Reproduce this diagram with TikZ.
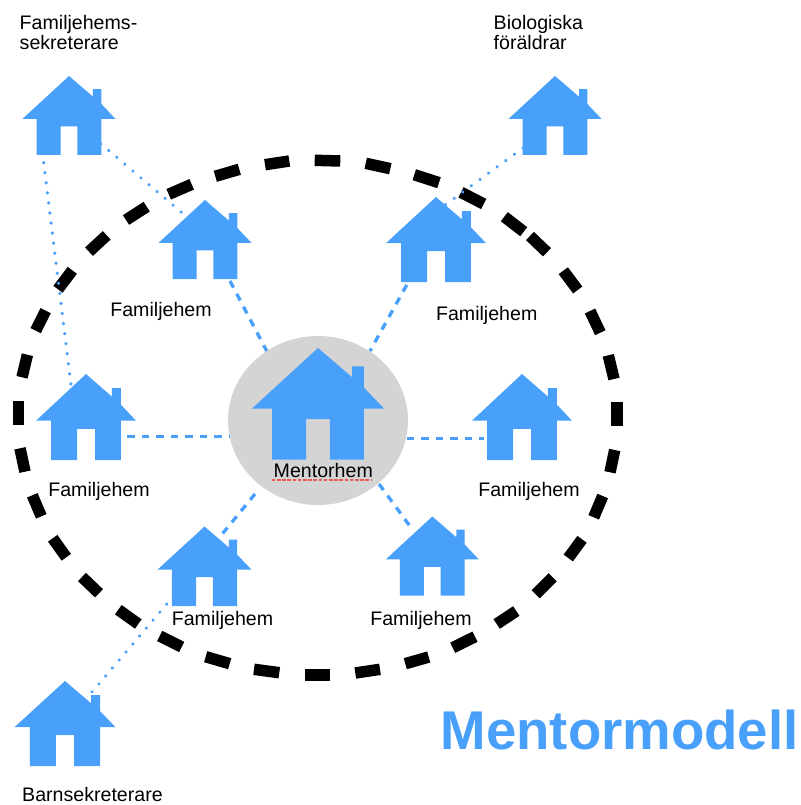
\documentclass[tikz,border=0pt]{standalone}
\usepackage{fontspec}
\setmainfont{Liberation Sans}
\usetikzlibrary{calc}
\definecolor{hblue}{HTML}{48A0FB}
\definecolor{cgray}{HTML}{D4D4D4}
\definecolor{redline}{HTML}{EE5A50}
\tikzset{
  housebox/.style={inner sep=0pt,outer sep=0pt,draw=none,fill=none},
  txt/.style={inner sep=0pt,anchor=base,font=\fontsize{19.6}{20}\selectfont,text=black},
  dashlink/.style={draw=hblue,line width=3.3pt,dash pattern=on 7.5pt off 7pt},
  dotlink/.style={draw=hblue,line width=3.6pt,line cap=round,dash pattern=on 0.01pt off #1pt},
  ringdash/.style={draw=black,line width=11.5pt},
}
\newcommand{\mhouse}[5]{%
  \pgfmathsetmacro{\hsx}{#2}\pgfmathsetmacro{\hst}{#3}\pgfmathsetmacro{\hsw}{#4}\pgfmathsetmacro{\hsh}{#5}%
  \node[housebox,minimum width=#4pt,minimum height=#5pt] (#1) at (#2,#3+#5/2) {};
  \fill[hblue] (\hsx,\hst)
    -- (\hsx+.258*\hsw,\hst+.262*\hsh) -- (\hsx+.258*\hsw,\hst+.165*\hsh)
    -- (\hsx+.348*\hsw,\hst+.165*\hsh) -- (\hsx+.348*\hsw,\hst+.355*\hsh)
    -- (\hsx+.5*\hsw,\hst+.543*\hsh) -- (\hsx+.348*\hsw,\hst+.543*\hsh)
    -- (\hsx+.348*\hsw,\hst+\hsh) -- (\hsx+.09*\hsw,\hst+\hsh)
    -- (\hsx+.09*\hsw,\hst+.637*\hsh) -- (\hsx-.09*\hsw,\hst+.637*\hsh)
    -- (\hsx-.09*\hsw,\hst+\hsh) -- (\hsx-.348*\hsw,\hst+\hsh)
    -- (\hsx-.348*\hsw,\hst+.543*\hsh) -- (\hsx-.5*\hsw,\hst+.543*\hsh) -- cycle;
}
\begin{document}
\begin{tikzpicture}[x=1pt,y=-1pt]
\useasboundingbox (0,0) rectangle (800,805);
\fill[white] (0,0) rectangle (800,805);
% ring of hand-placed dashes
\foreach \xa/\ya/\xb/\yb in {
  18.7/400.7/18.7/425, 27.4/354.7/22/377.3, 45.7/310.7/35.7/330.7, 72.3/270.3/58/289.3,
  106.7/235.3/89/251.7, 146.7/206.7/126/220, 191.7/184.3/168.7/194.3, 239.3/169.3/215.3/176.3,
  289.3/161/265/164.7, 314.7/160.3/340.3/161, 365.7/163.3/390.3/168.7, 414.3/174.7/439/182.7,
  461/192.3/483.7/204, 504.3/216.7/523.7/231.7, 530/236/547/252.3, 563.3/270.7/577.7/290,
  590/311/600.3/332.7, 608.3/355.3/614/379, 617/401.7/617/425.7, 614.7/450/610/472.3,
  602.7/496/593.7/517.3, 582/539.3/568.3/558, 552.7/577.3/535.7/594.3, 516.3/611/496.7/624,
  475/636.7/452.7/647.7, 428.7/657/405.3/663.7, 380/669.3/355.3/673, 330/675/305/675,
  279.3/672.7/254/669.3, 229.7/663.7/205.7/656.7, 181.7/647/159.7/636, 138.3/624/118.3/609.7,
  99/593.3/82/577, 66.3/557.3/52.7/538.3, 41.3/516.3/32.3/495.3, 25/471.7/20/448.3}
  {\draw[ringdash] (\xa,\ya) -- (\xb,\yb);}
% mentor disc
\node[inner sep=0pt,outer sep=0pt] (disc) at (318,420.5) {};
\fill[cgray] (disc) ellipse [x radius=90pt,y radius=84.5pt];
% houses
\mhouse{fam1}{205}{200}{93}{79}
\mhouse{fam2}{436}{197}{100}{85}
\mhouse{fam3}{86}{374}{100}{86}
\mhouse{fam4}{522}{374}{100}{86}
\mhouse{fam5}{204.5}{526.5}{94}{79.5}
\mhouse{fam6}{432.3}{516.5}{93}{79}
\mhouse{ment}{318}{348}{132}{111.5}
\mhouse{fsek}{69}{76}{93}{79}
\mhouse{bio}{555}{76}{93}{79}
\mhouse{barn}{65}{681}{101}{85}
% dashed links
\draw[dashlink] ($(fam1)+(25,41.5)$) -- ($(disc)+(-51.3,-69.5)$);
\draw[dashlink] ($(fam2)+(-29.3,45.5)$) -- ($(disc)+(52,-69.5)$);
\draw[dashlink] ($(fam3)+(41.3,19.7)$) -- ($(disc)+(-88,16.2)$);
\draw[dashlink] ($(disc)+(88.7,17.8)$) -- ($(fam4)+(-38,21.3)$);
\draw[dashlink] ($(disc)+(-63,73.5)$) -- ($(fam5)+(13.8,-27.5)$);
\draw[dashlink] ($(disc)+(61,63.5)$) -- ($(fam6)+(-19,-25.3)$);
% dotted links
\draw[dotlink=10.55] ($(fsek)+(31.7,28.2)$) -- ($(fam1)+(-23.3,-27)$);
\draw[dotlink=10.12] ($(fsek)+(-25.3,47.2)$) -- ($(fam3)+(-15,-32)$);
\draw[dotlink=10.65] ($(bio)+(-32,32.5)$) -- ($(fam2)+(9,-34.5)$);
\draw[dotlink=10.45] ($(fam5)+(-37.8,38)$) -- ($(barn)+(26.7,-31.2)$);
% underline
\draw[redline,line width=2.7pt,dash pattern=on 3.7pt off 1.5pt] (271.7,480) -- (370.7,480);
% labels
\node[txt] (l1) at (161,316.7) {Familjehem};
\node[txt] (l2) at (486.7,320) {Familjehem};
\node[txt] (l3) at (99,496) {Familjehem};
\node[txt] (l4) at (529,496) {Familjehem};
\node[txt] (l5) at (222.5,625) {Familjehem};
\node[txt] (l6) at (421,625) {Familjehem};
\node[txt] (l7) at (323.3,477.3) {Mentorhem};
\node[txt,anchor=base west] (l8a) at (19.5,29.3) {Familjehems-};
\node[txt,anchor=base west] (l8b) at (19.5,49.5) {sekreterare};
\node[txt,anchor=base west] (l9a) at (493.5,29.3) {Biologiska};
\node[txt,anchor=base west] (l9b) at (493.5,49.5) {föräldrar};
\node[txt,anchor=base west] (l10) at (22,801.7) {Barnsekreterare};
\node[inner sep=0pt,anchor=base west,text=hblue,font=\fontsize{54.6}{60}\selectfont\bfseries] (title) at (440.5,749.5) {Mentormodell};
\end{tikzpicture}
\end{document}
